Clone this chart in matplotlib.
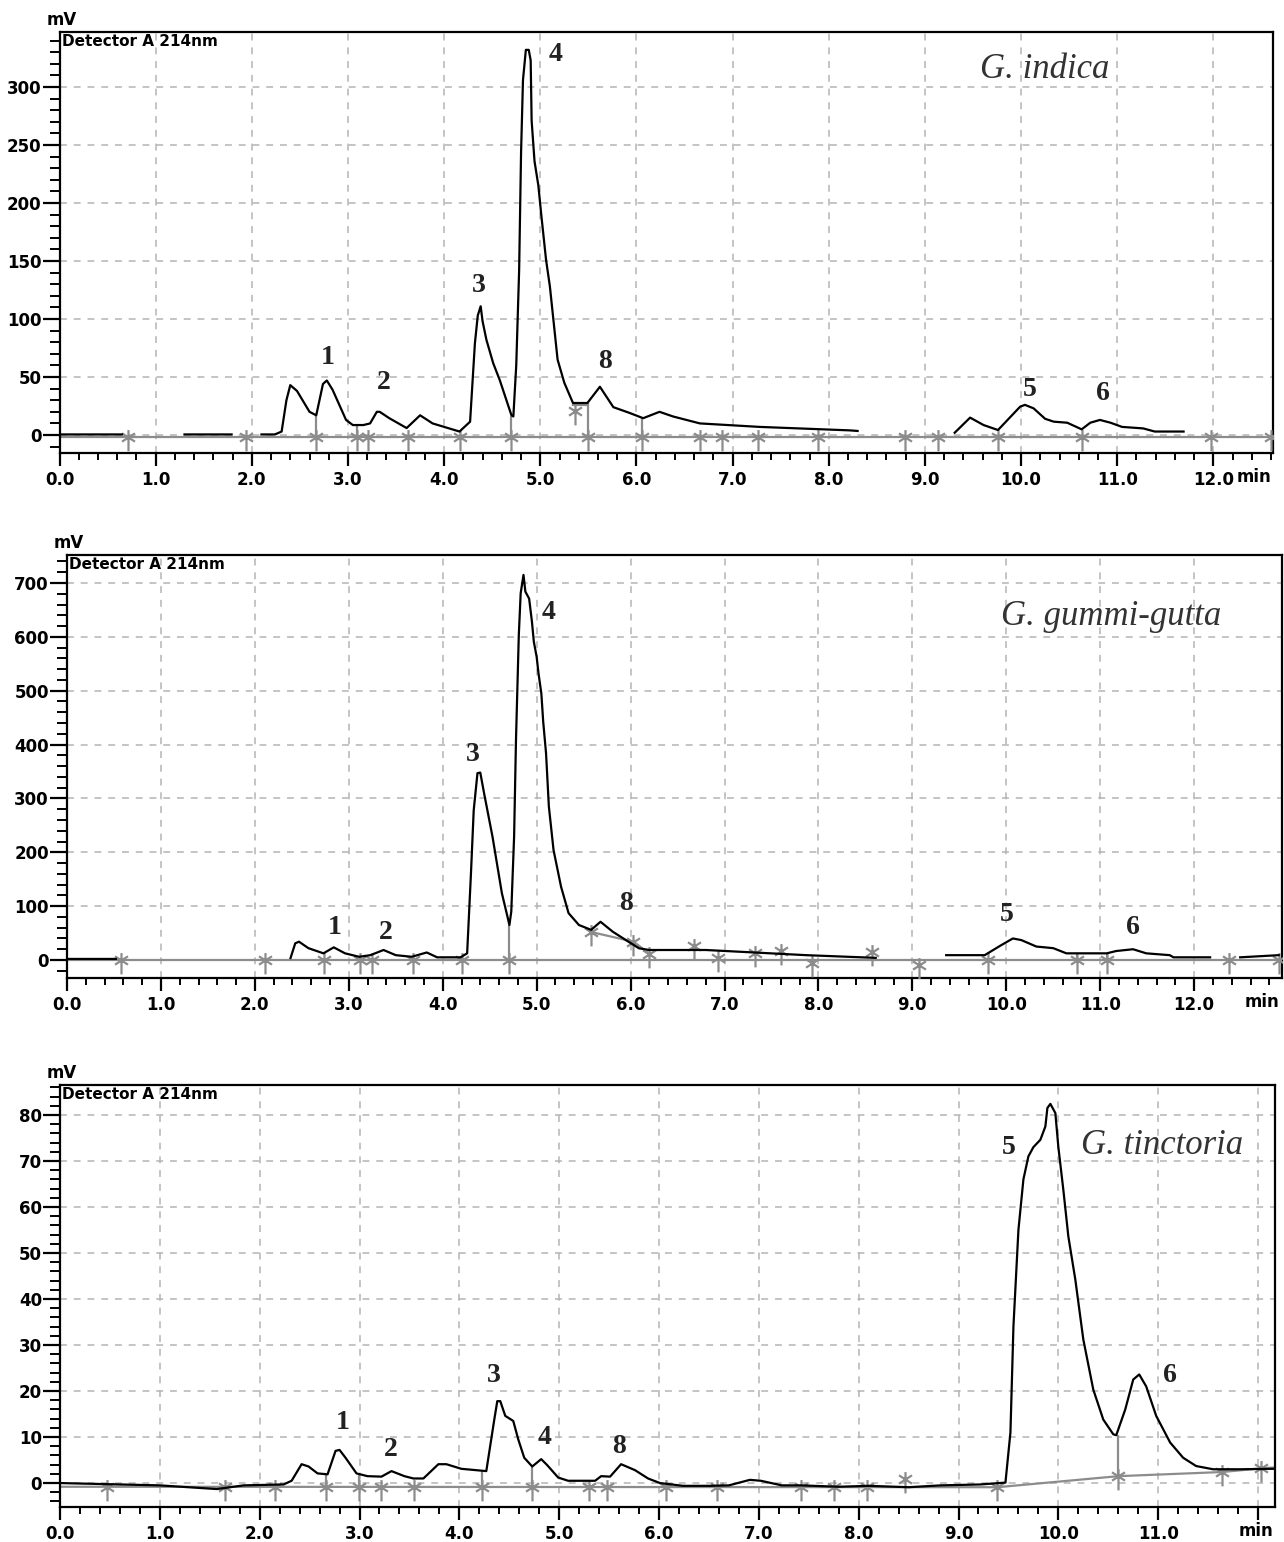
import numpy as np
import matplotlib
matplotlib.use('Agg')
import matplotlib.pyplot as plt
from matplotlib.path import Path
from matplotlib.ticker import MultipleLocator, FuncFormatter

nan = np.nan

# ---- G. indica (time in min, signal in mV) ----
indica_t = [0.00, 0.65, nan, 1.30, 1.79, nan, 2.10, 2.24, 2.31, 2.36,
            2.40, 2.47, 2.60, 2.67, 2.74, 2.78, 2.84, 2.98, 3.05, 3.16,
            3.23, 3.30, 3.33, 3.43, 3.61, 3.75, 3.88, 4.16, 4.27, 4.32,
            4.35, 4.38, 4.40, 4.44, 4.51, 4.58, 4.70, 4.72, 4.75, 4.78,
            4.80, 4.82, 4.85, 4.88, 4.90, 4.91, 4.94, 4.98, 5.01, 5.06,
            5.10, 5.18, 5.25, 5.34, 5.49, 5.62, 5.76, 5.93, 6.07, 6.24,
            6.38, 6.66, 7.28, 8.22, 8.30, nan, 9.31, 9.47, 9.61, 9.76,
            9.99, 10.04, 10.13, 10.25, 10.34, 10.48, 10.63, 10.72, 10.82, 10.93,
            11.05, 11.27, 11.39, 11.69]
indica_mv = [0.5, 0.5, nan, 0.5, 0.5, nan, 0.5, 0.5, 3, 30,
             43, 38, 20, 17, 44, 47, 39, 13, 8.6, 8.6,
             10, 20, 20, 14.5, 6, 17, 10, 3, 11.5, 79,
             103, 111, 98, 82, 62, 47, 17, 16, 60, 142,
             243, 306, 332, 332, 323, 271, 236, 215, 190, 151,
             128, 65, 45, 27.6, 27.6, 41.6, 24, 19, 14.5, 20,
             16, 10, 7, 4, 3.5, nan, 2, 15, 8.6, 4.3,
             24.4, 26, 23, 14, 11.5, 10.6, 4.9, 10.6, 13, 10.6,
             7, 5.7, 3, 3]
indica_base_t = [0.0, 12.62]
indica_base_mv = [-1.5, -1.5]
indica_marks_t = [0.71, 1.94, 2.67, 3.09, 3.21, 3.62, 4.16, 4.70, 5.36, 5.50,
                  6.06, 6.66, 6.89, 7.26, 7.89, 8.79, 9.14, 9.76, 10.63, 11.98, 12.60]
indica_marks_mv = [-1.5, -1.5, -1.5, -1.5, -1.5, -1.5, -1.5, -1.5, 21, -1.5,
                   -1.5, -1.5, -1.5, -1.5, -1.5, -1.5, -1.5, -1.5, -1.5, -1.5, -1.5]
indica_drop_t = [2.67, 3.09, 4.70, 5.50, 6.06]
indica_drop_mv = [17, 8.6, 16, 27.6, 14.5]
indica_skim_t = [5.34, 5.50]
indica_skim_mv = [26, 26]
indica_peaks = ['1', '2', '3', '4', '8', '5', '6']
indica_peak_t = [2.79, 3.37, 4.36, 5.16, 5.67, 10.09, 10.85]
indica_peak_mv = [67, 45, 129, 328, 63, 39, 36]

# ---- G. gummi-gutta ----
gummi_t = [0.00, 0.52, nan, 2.38, 2.43, 2.47, 2.57, 2.73, 2.84, 2.96,
           3.11, 3.23, 3.37, 3.50, 3.67, 3.83, 3.94, 4.19, 4.26, 4.30,
           4.33, 4.37, 4.40, 4.44, 4.53, 4.63, 4.69, 4.71, 4.73, 4.76,
           4.78, 4.81, 4.83, 4.86, 4.88, 4.92, 4.95, 4.97, 5.00, 5.02,
           5.05, 5.07, 5.10, 5.13, 5.18, 5.26, 5.34, 5.45, 5.58, 5.68,
           5.81, 5.95, 6.09, 6.20, 6.80, 7.87, 8.61, nan, 9.36, 9.77,
           9.95, 10.07, 10.16, 10.32, 10.50, 10.64, 11.07, 11.17, 11.35, 11.49,
           11.74, 11.78, 12.17, nan, 12.49, 12.90]
gummi_mv = [2, 2, nan, 3.7, 31, 34, 22, 12.4, 23.5, 12.4,
            6, 9, 18.6, 9, 6, 14, 5, 5, 12.4, 158,
            278, 347, 348, 310, 229, 124, 80, 65, 90, 229,
            408, 603, 681, 715, 684, 671, 628, 591, 563, 532,
            495, 442, 384, 285, 204, 136, 87, 65, 56, 71,
            52.6, 37, 21.7, 18.6, 18.6, 9, 4, nan, 9, 9,
            28, 40, 37, 25, 22, 12.4, 12.4, 16.7, 20, 12.4,
            9, 5, 5, nan, 5, 9]
gummi_base_t = [0.0, 12.93]
gummi_base_mv = [0, 0]
gummi_marks_t = [0.57, 2.11, 2.74, 3.12, 3.25, 3.68, 4.20, 4.71, 5.58, 6.03,
                 6.20, 6.68, 6.93, 7.33, 7.60, 7.93, 8.57, 9.07, 9.80, 10.75,
                 11.07, 12.37, 12.90]
gummi_marks_mv = [0, 0, 0, 0, 0, 0, 0, 0, 52, 34,
                  12, 26, 4, 13, 17, -5, 15, -9, 0, 0,
                  0, 0, 0]
gummi_drop_t = [4.71, 10.75, 11.07]
gummi_drop_mv = [65, 12.4, 12.4]
gummi_skim_t = [5.58, 6.03, 6.20]
gummi_skim_mv = [52, 34, 12]
gummi_peaks = ['1', '2', '3', '4', '8', '5', '6']
gummi_peak_t = [2.85, 3.39, 4.32, 5.13, 5.95, 10.0, 11.35]
gummi_peak_mv = [60, 51, 381, 646, 104, 84, 61]

# ---- G. tinctoria ----
tinct_t = [0.00, 0.40, 1.00, 1.57, 1.84, 2.24, 2.32, 2.42, 2.49, 2.58,
           2.68, 2.76, 2.80, 2.86, 2.97, 3.08, 3.22, 3.32, 3.45, 3.54,
           3.64, 3.79, 3.87, 4.02, 4.27, 4.35, 4.38, 4.41, 4.46, 4.54,
           4.59, 4.65, 4.73, 4.82, 4.88, 4.99, 5.09, 5.36, 5.42, 5.51,
           5.62, 5.76, 5.89, 6.01, 6.24, 6.51, 6.70, 6.91, 7.02, 7.23,
           7.42, 7.80, 8.10, 8.50, 8.82, 9.22, 9.47, 9.52, 9.55, 9.60,
           9.65, 9.70, 9.75, 9.82, 9.87, 9.89, 9.92, 9.97, 10.00, 10.05,
           10.10, 10.17, 10.25, 10.35, 10.45, 10.55, 10.58, 10.67, 10.75, 10.81,
           10.88, 10.98, 11.12, 11.25, 11.38, 11.55, 11.82, 12.15]
tinct_mv = [0.0, -0.2, -0.5, -1.3, -0.5, -0.3, 0.5, 4.1, 3.6, 2.1,
            1.9, 7.0, 7.2, 5.5, 2.1, 1.5, 1.4, 2.6, 1.5, 1.0,
            1.0, 4.1, 4.1, 3.1, 2.6, 13.8, 17.8, 17.8, 14.6, 13.5,
            9.5, 5.5, 3.6, 5.2, 3.9, 1.2, 0.5, 0.5, 1.5, 1.4,
            4.1, 2.8, 1.0, 0.0, -0.6, -0.6, -0.5, 0.7, 0.5, -0.5,
            -0.5, -0.8, -0.6, -0.9, -0.5, -0.3, 0.1, 11, 34, 55,
            66, 71, 73, 74.6, 77.5, 81.5, 82.4, 80.4, 73, 63.7,
            53.6, 44.2, 31.2, 20.3, 13.8, 10.6, 10.4, 16, 22.5, 23.6,
            21, 14.6, 8.8, 5.5, 3.7, 3.0, 3.0, 3.1]
tinct_base_t = [0.0, 9.39, 10.60, 11.64, 12.03, 12.17]
tinct_base_mv = [-0.8, -0.9, 1.5, 2.4, 3.2, 3.4]
tinct_marks_t = [0.47, 1.65, 2.15, 2.66, 2.99, 3.22, 3.55, 4.23, 4.73, 5.30,
                 5.48, 6.07, 6.58, 7.42, 7.75, 8.08, 8.46, 9.39, 10.60, 11.64, 12.03]
tinct_marks_mv = [-0.8, -0.8, -0.8, -0.8, -0.8, -0.8, -0.8, -0.8, -0.8, -0.8,
                  -0.8, -0.8, -0.8, -0.8, -0.8, -0.8, 0.8, -0.9, 1.5, 2.4, 3.2]
tinct_drop_t = [2.66, 2.99, 4.23, 4.73, 10.60]
tinct_drop_mv = [1.9, 2.1, 2.6, 3.6, 10.4]
tinct_peaks = ['1', '2', '3', '4', '8', '5', '6']
tinct_peak_t = [2.83, 3.31, 4.35, 4.85, 5.60, 9.50, 11.12]
tinct_peak_mv = [13.2, 7.3, 23.3, 9.8, 8.0, 73.0, 23.3]

# asterisk with a long tail below, like the integration marks
ast = Path([(0, -1.5), (0, 0.8), (-0.7, -0.45), (0.7, 0.45), (-0.7, 0.45), (0.7, -0.45)],
           [Path.MOVETO, Path.LINETO] * 3)

GRAY = '#8c8c8c'
tick_font = {'family': 'DejaVu Sans', 'weight': 'bold', 'size': 12}

fig = plt.figure(figsize=(12.84, 15.42), dpi=100)


def panel(rect, xmax, ylim, ymaj, ymin, last_label,
          t, mv, base_t, base_mv, marks_t, marks_mv, drop_t, drop_mv,
          skim_t, skim_mv, peaks, peak_t, peak_mv, name, name_t, name_mv):
    ax = fig.add_axes(rect)
    ax.set_xlim(0, xmax)
    ax.set_ylim(*ylim)
    ax.xaxis.set_major_locator(MultipleLocator(1))
    ax.xaxis.set_minor_locator(MultipleLocator(0.2))
    ax.yaxis.set_major_locator(MultipleLocator(ymaj))
    ax.yaxis.set_minor_locator(MultipleLocator(ymin))
    ax.xaxis.set_major_formatter(FuncFormatter(
        lambda v, p: '' if v > last_label + 0.01 else '%.1f' % v))
    ax.yaxis.set_major_formatter(FuncFormatter(lambda v, p: '%d' % v))
    ax.tick_params(axis='x', which='major', direction='out', length=9, width=1.6, pad=4)
    ax.tick_params(axis='x', which='minor', direction='out', length=5, width=1.4)
    ax.tick_params(axis='y', which='major', direction='out', length=12, width=1.6, pad=1)
    ax.tick_params(axis='y', which='minor', direction='out', length=7, width=1.4)
    for lab in ax.get_xticklabels() + ax.get_yticklabels():
        lab.set_fontproperties(tick_font)
    for s in ax.spines.values():
        s.set_linewidth(1.6)
    ax.grid(True, which='major', color='#b4b4b4', ls=(0, (4.5, 4.5)), lw=1.1)

    # baseline, integration marks, drop lines
    ax.plot(base_t, base_mv, color=GRAY, lw=1.6, zorder=2)
    if skim_t:
        ax.plot(skim_t, skim_mv, color=GRAY, lw=1.6, zorder=2)
    base_at_drop = np.interp(drop_t, base_t, base_mv)
    ax.vlines(drop_t, base_at_drop, drop_mv, colors=GRAY, lw=1.6, zorder=2)
    ax.plot(marks_t, marks_mv, ls='none', marker=ast, ms=20, mew=1.6,
            mec=GRAY, mfc='none', zorder=3)

    ax.plot(t, mv, color='black', lw=1.6, zorder=4)

    for lab, x, y in zip(peaks, peak_t, peak_mv):
        ax.text(x, y, lab, ha='center', va='center', fontsize=20,
                family='Liberation Serif', weight='bold', color='#222222', zorder=5)
    ax.text(name_t, name_mv, name, ha='center', va='center', fontsize=25,
            family='Liberation Serif', style='italic', color='#333333', zorder=5)

    ax.annotate('mV', xy=(0, 1), xycoords='axes fraction', xytext=(-13, 3),
                textcoords='offset pixels', ha='left', va='bottom',
                family='DejaVu Sans', weight='bold', fontsize=12)
    ax.annotate('Detector A 214nm', xy=(0, 1), xycoords='axes fraction',
                xytext=(2, -2), textcoords='offset pixels', ha='left', va='top',
                family='DejaVu Sans', weight='bold', fontsize=11)
    ax.annotate('min', xy=(1, 0), xycoords='axes fraction', xytext=(-2, -15),
                textcoords='offset pixels', ha='right', va='top',
                family='DejaVu Sans', weight='bold', fontsize=12)
    return ax


panel([59.5 / 1284, 1 - 453 / 1542, 1213.5 / 1284, 421 / 1542], 12.62,
      (-15.5, 347.4), 50, 10, 12,
      indica_t, indica_mv, indica_base_t, indica_base_mv,
      indica_marks_t, indica_marks_mv, indica_drop_t, indica_drop_mv,
      indica_skim_t, indica_skim_mv, indica_peaks, indica_peak_t, indica_peak_mv,
      'G. indica', 10.25, 315)

panel([67 / 1284, 1 - 978 / 1542, 1214.5 / 1284, 423 / 1542], 12.93,
      (-33.4, 752), 100, 20, 12,
      gummi_t, gummi_mv, gummi_base_t, gummi_base_mv,
      gummi_marks_t, gummi_marks_mv, gummi_drop_t, gummi_drop_mv,
      gummi_skim_t, gummi_skim_mv, gummi_peaks, gummi_peak_t, gummi_peak_mv,
      'G. gummi-gutta', 11.12, 637)

panel([60 / 1284, 1 - 1507 / 1542, 1215 / 1284, 422 / 1542], 12.17,
      (-5.2, 86.5), 10, 2, 11,
      tinct_t, tinct_mv, tinct_base_t, tinct_base_mv,
      tinct_marks_t, tinct_marks_mv, tinct_drop_t, tinct_drop_mv,
      [], [], tinct_peaks, tinct_peak_t, tinct_peak_mv,
      'G. tinctoria', 11.04, 73.4)

fig.savefig('out.png', dpi=100)
